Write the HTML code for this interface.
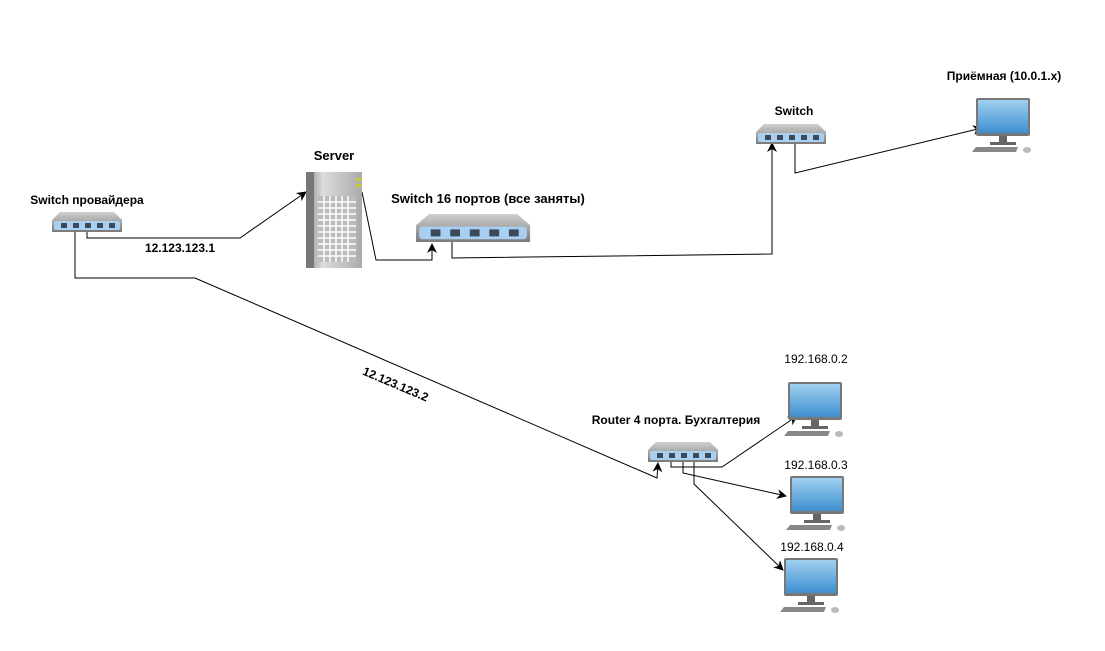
<!DOCTYPE html>
<html><head><meta charset="utf-8"><style>
html,body{margin:0;padding:0;background:#fff;}
svg text{font-family:"Liberation Sans","DejaVu Sans",sans-serif;}
</style></head><body>
<svg width="1105" height="646" viewBox="0 0 1105 646" xmlns="http://www.w3.org/2000/svg">
<defs>
<linearGradient id="sw" x1="0" y1="0" x2="0" y2="1"><stop offset="0" stop-color="#d0d0d0"/><stop offset="1" stop-color="#7a7a7a"/></linearGradient>
<linearGradient id="scr" x1="0" y1="0" x2="0" y2="1"><stop offset="0" stop-color="#9fd0f0"/><stop offset="1" stop-color="#3d8fcf"/></linearGradient>
<linearGradient id="srv" x1="0" y1="0" x2="1" y2="0"><stop offset="0" stop-color="#888"/><stop offset="0.3" stop-color="#ddd"/><stop offset="1" stop-color="#aaa"/></linearGradient>
<g id="switch">
<path d="M8,0 L62,0 L70,8 L70,20 L0,20 L0,8 Z" fill="url(#sw)"/>
<rect x="2" y="9" width="66" height="9" rx="2" fill="#a8cff0"/>
<rect x="9" y="11" width="6" height="5" fill="#3a4a5a"/><rect x="21" y="11" width="6" height="5" fill="#3a4a5a"/><rect x="33" y="11" width="6" height="5" fill="#3a4a5a"/><rect x="45" y="11" width="6" height="5" fill="#3a4a5a"/><rect x="57" y="11" width="6" height="5" fill="#3a4a5a"/>
</g>
<g id="pc">
<rect x="4" y="0" width="54" height="38" rx="2" fill="#777"/>
<rect x="6" y="2" width="50" height="33" fill="url(#scr)"/>
<rect x="27" y="38" width="8" height="6" fill="#666"/>
<rect x="18" y="44" width="26" height="3" fill="#666"/>
<path d="M4,49 L46,49 L44,54 L0,54 Z" fill="#888"/>
<ellipse cx="55" cy="52" rx="4" ry="3" fill="#bbb"/>
</g>
<marker id="ar" markerWidth="10" markerHeight="10" refX="9" refY="5" orient="auto" markerUnits="userSpaceOnUse"><path d="M0,0 L10,5 L0,10 L3,5 Z" fill="#000"/></marker>
</defs>

<g fill="none" stroke="#000" stroke-width="1">
<path d="M87,228 L87,238 L240,238 L306,192" marker-end="url(#ar)"/>
<path d="M75,228 L75,278 L195,278 L657,478 L658,463" marker-end="url(#ar)"/>
<path d="M362,192 L376,260 L432,260 L432,244" marker-end="url(#ar)"/>
<path d="M452,240 L452,258 L772,254 L772,143" marker-end="url(#ar)"/>
<path d="M795,140 L795,173 L982,128" marker-end="url(#ar)"/>
<path d="M671,458 L671,467 L722,467 L797,416" marker-end="url(#ar)"/>
<path d="M683,458 L683,473 L786,496" marker-end="url(#ar)"/>
<path d="M694,458 L694,484 L783,570" marker-end="url(#ar)"/>
</g>

<use href="#switch" x="52" y="212"/>
<use href="#switch" x="756" y="124"/>
<use href="#switch" x="648" y="442"/>
<g transform="translate(416,214) scale(1.63,1.4)"><use href="#switch"/></g>

<rect x="306" y="172" width="56" height="96" fill="url(#srv)"/>
<rect x="306" y="172" width="8" height="96" fill="#777"/>
<rect x="318" y="196" width="38" height="66" fill="#bbb"/>
<g stroke="#fff" stroke-width="1.5">
<path d="M318,202 H356 M318,208 H356 M318,214 H356 M318,220 H356 M318,226 H356 M318,232 H356 M318,238 H356 M318,244 H356 M318,250 H356 M318,256 H356"/>
<path d="M324,196 V262 M330,196 V262 M336,196 V262 M342,196 V262 M348,196 V262"/>
</g>
<rect x="356" y="178" width="5" height="3" fill="#cc3"/><rect x="356" y="184" width="5" height="3" fill="#cc3"/>

<use href="#pc" x="972" y="98"/>
<use href="#pc" x="784" y="382"/>
<use href="#pc" x="786" y="476"/>
<use href="#pc" x="780" y="558"/>

<g font-weight="bold" fill="#000">
<text x="87" y="204" font-size="12" text-anchor="middle">Switch провайдера</text>
<text x="334" y="160" font-size="13" text-anchor="middle">Server</text>
<text x="488" y="203" font-size="13" text-anchor="middle">Switch 16 портов (все заняты)</text>
<text x="794" y="115" font-size="12" text-anchor="middle">Switch</text>
<text x="1004" y="80" font-size="12" text-anchor="middle">Приёмная (10.0.1.x)</text>
<text x="676" y="424" font-size="12" text-anchor="middle">Router 4 порта. Бухгалтерия</text>
<text x="180" y="252" font-size="12" text-anchor="middle">12.123.123.1</text>
<text x="0" y="0" font-size="12" text-anchor="middle" transform="translate(394,388) rotate(23)">12.123.123.2</text>
</g>
<g font-size="12" fill="#000" text-anchor="middle">
<text x="816" y="363">192.168.0.2</text>
<text x="816" y="469">192.168.0.3</text>
<text x="812" y="551">192.168.0.4</text>
</g>
</svg>
</body></html>
